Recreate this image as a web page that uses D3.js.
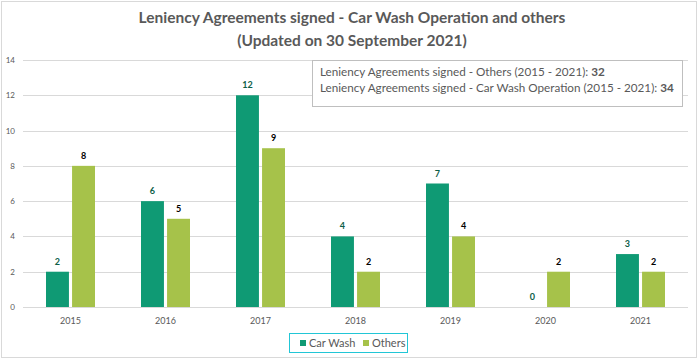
<!DOCTYPE html>
<html><head><meta charset="utf-8">
<script src="https://cdn.jsdelivr.net/npm/d3@7"></script>
<style>body{margin:0;background:#fff}svg{display:block}</style>
</head><body>
<script>
const years = ["2015","2016","2017","2018","2019","2020","2021"];
const carWash = [2,6,12,4,7,0,3];
const others = [8,5,9,2,4,2,2];
const seriesNames = ["Car Wash","Others"];
const yTicks = [0,2,4,6,8,10,12,14];
const titleLines = ["Leniency Agreements signed - Car Wash Operation and others","(Updated on 30 September 2021)"];
const noteLines = [["Leniency Agreements signed - Others (2015 - 2021): ","32"],["Leniency Agreements signed - Car Wash Operation (2015 - 2021): ","34"]];

const W=700,H=361;
const colors=["#0f9a74","#a6c24a"];
const labelColors=["#0c5e47","#000000"];
const font="Lato, 'Open Sans', sans-serif";
const svg=d3.select("body").append("svg").attr("width",W).attr("height",H);
svg.append("rect").attr("x",1.5).attr("y",1.5).attr("width",695).attr("height",356).attr("fill","#fff").attr("stroke","#d9d9d9");

const x=d3.scaleBand().domain(years).range([23,688]).paddingInner(0).paddingOuter(0);
const y=d3.scaleLinear().domain([0,14]).range([307,60]);
const xs=d3.scaleBand().domain(seriesNames).range([0,49]).paddingInner(0.12);

// grid
svg.append("g").selectAll("line").data(yTicks).join("line")
 .attr("x1",23).attr("x2",688).attr("y1",d=>Math.round(y(d))+0.5).attr("y2",d=>Math.round(y(d))+0.5)
 .attr("stroke","#d9d9d9").attr("stroke-width",1);
svg.append("g").selectAll("text").data(yTicks).join("text")
 .attr("x",15).attr("y",d=>y(d)+3).attr("text-anchor","end")
 .attr("font-family",font).attr("font-size",8).attr("fill","#595959").text(d=>d);

// x labels
svg.append("g").selectAll("text").data(years).join("text")
 .attr("x",d=>x(d)+x.bandwidth()/2).attr("y",324).attr("text-anchor","middle")
 .attr("font-family",font).attr("font-size",9).attr("fill","#595959").text(d=>d);

const data=years.map((yr,i)=>({yr,vals:[carWash[i],others[i]]}));
const g=svg.append("g");
data.forEach(d=>{
  const off=x(d.yr)+x.bandwidth()/2-24.5;
  d.vals.forEach((v,j)=>{
    const bx=off+xs(seriesNames[j]);
    g.append("rect").attr("x",bx).attr("y",y(v)).attr("width",xs.bandwidth()).attr("height",y(0)-y(v)).attr("fill",colors[j]);
    g.append("text").attr("x",bx+xs.bandwidth()/2).attr("y",y(v)-7).attr("text-anchor","middle")
     .attr("font-family",font).attr("font-size",9).attr("font-weight","bold").attr("fill",labelColors[j]).text(v);
  });
});

// title
svg.append("g").selectAll("text").data(titleLines).join("text")
 .attr("x",352).attr("y",(d,i)=>23+i*23).attr("text-anchor","middle")
 .attr("font-family",font).attr("font-size",15.5).attr("font-weight","bold").attr("fill","#595959").text(d=>d);

// note box
svg.append("rect").attr("x",312.5).attr("y",60.5).attr("width",370).attr("height",46).attr("fill","#fff").attr("stroke","#bfbfbf");
noteLines.forEach((l,i)=>{
  const t=svg.append("text").attr("x",320).attr("y",76+i*16).attr("font-family",font).attr("font-size",11.7).attr("fill","#595959");
  t.append("tspan").text(l[0]);
  t.append("tspan").attr("font-weight","bold").text(l[1]);
});

// legend
svg.append("rect").attr("x",289.5).attr("y",333.5).attr("width",118).attr("height",19).attr("fill","#fff").attr("stroke","#22c6d6");
const leg=[{n:"Car Wash",x:300},{n:"Others",x:363}];
leg.forEach((l,i)=>{
  svg.append("rect").attr("x",l.x).attr("y",340).attr("width",6).attr("height",6).attr("fill",colors[i]);
  svg.append("text").attr("x",l.x+9).attr("y",347).attr("font-family",font).attr("font-size",11).attr("fill","#595959").text(l.n);
});
</script>
</body></html>
